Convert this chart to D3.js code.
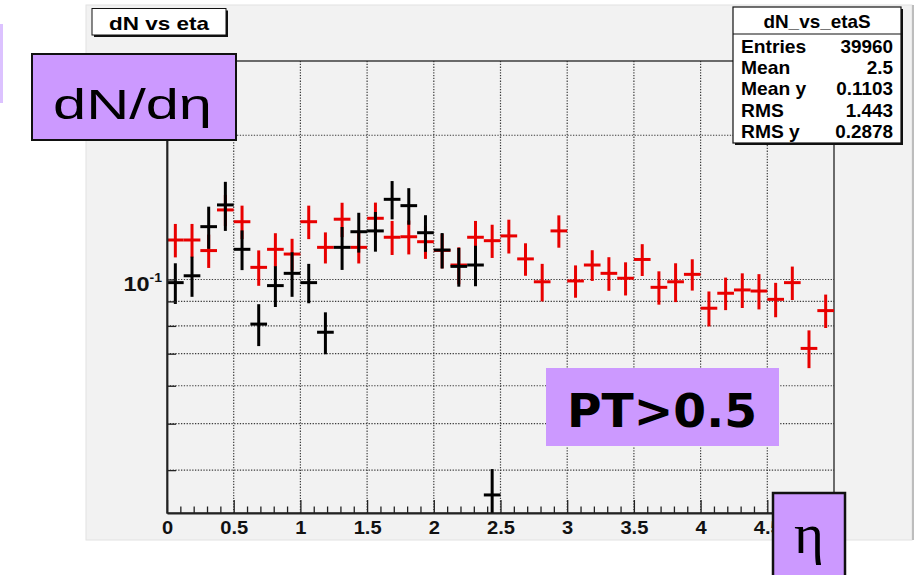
<!DOCTYPE html>
<html>
<head>
<meta charset="utf-8">
<script src="https://d3js.org/d3.v7.min.js"></script>
<style>
  html, body { margin: 0; padding: 0; background: #ffffff; }
  svg { display: block; }
</style>
</head>
<body>
<svg id="chart" width="919" height="575"></svg>
<script>
// eta bin centres (40 bins of width 0.125 over 0..5)
const etaCenters = [0.0625, 0.1875, 0.3125, 0.4375, 0.5625, 0.6875, 0.8125, 0.9375,
  1.0625, 1.1875, 1.3125, 1.4375, 1.5625, 1.6875, 1.8125, 1.9375,
  2.0625, 2.1875, 2.3125, 2.4375, 2.5625, 2.6875, 2.8125, 2.9375,
  3.0625, 3.1875, 3.3125, 3.4375, 3.5625, 3.6875, 3.8125, 3.9375,
  4.0625, 4.1875, 4.3125, 4.4375, 4.5625, 4.6875, 4.8125, 4.9375];
const binWidth = 0.125;

// dN/deta, black histogram (filled up to eta = 2.5)
const blackVal = [0.0985, 0.1018, 0.1289, 0.1431, 0.1156, 0.0807, 0.0971, 0.1030,
  0.0985, 0.0776, 0.1167, 0.1258, 0.1263, 0.1470, 0.1426, 0.1252,
  0.1152, 0.1065, 0.1072, 0.0355];
const blackErr = [0.0096, 0.0098, 0.0130, 0.0168, 0.0110, 0.0081, 0.0095, 0.0110,
  0.0093, 0.0078, 0.0120, 0.0120, 0.0120, 0.0135, 0.0125, 0.0110,
  0.0098, 0.0099, 0.0104, 0.0047];

// dN/deta, red histogram (dN_vs_etaS)
const redVal = [0.1209, 0.1209, 0.1149, 0.1397, 0.1320, 0.1060, 0.1156, 0.1130,
  0.1320, 0.1167, 0.1336, 0.1167, 0.1342, 0.1225, 0.1228, 0.1199,
  0.1150, 0.1072, 0.1225, 0.1205, 0.1233, 0.1104, 0.0989, 0.1263,
  0.0993, 0.1072, 0.1030, 0.1006, 0.1101, 0.0963, 0.0989, 0.1025,
  0.0871, 0.0936, 0.0951, 0.0946, 0.0909, 0.0985, 0.0718, 0.0861];
const redErr = [0.0097, 0.0097, 0.0092, 0.0105, 0.0106, 0.0090, 0.0093, 0.0086,
  0.0106, 0.0087, 0.0110, 0.0087, 0.0105, 0.0100, 0.0100, 0.0095,
  0.0095, 0.0095, 0.0100, 0.0096, 0.0100, 0.0086, 0.0089, 0.0098,
  0.0077, 0.0079, 0.0083, 0.0080, 0.0084, 0.0077, 0.0092, 0.0077,
  0.0073, 0.0073, 0.0079, 0.0080, 0.0075, 0.0079, 0.0065, 0.0069];

// axis ticks
const xMajorTicks = [0, 0.5, 1, 1.5, 2, 2.5, 3, 3.5, 4, 4.5];
const xMinorTicks = [0.1, 0.2, 0.3, 0.4, 0.6, 0.7, 0.8, 0.9, 1.1, 1.2, 1.3, 1.4,
  1.6, 1.7, 1.8, 1.9, 2.1, 2.2, 2.3, 2.4, 2.6, 2.7, 2.8, 2.9, 3.1, 3.2, 3.3, 3.4,
  3.6, 3.7, 3.8, 3.9, 4.1, 4.2, 4.3, 4.4, 4.6, 4.7, 4.8, 4.9];
const xGridTicks = [0.5, 1, 1.5, 2, 2.5, 3, 3.5, 4, 4.5];
const yTicks = [0.04, 0.05, 0.06, 0.07, 0.08, 0.09, 0.1, 0.2];
const yDomain = [0.03255, 0.2858];

// statistics box
const statTitle = "dN_vs_etaS";
const statNames = ["Entries", "Mean", "Mean y", "RMS", "RMS y"];
const statValues = ["39960", "2.5", "0.1103", "1.443", "0.2878"];

const histTitle = "dN vs eta";
const yLabel = "dN/dη";
const xLabel = "η";
const cutLabel = "PT>0.5";

const RED = "#e80000";
const PURPLE = "#cc99ff";
const FONT = "'Liberation Sans', Arial, Helvetica, sans-serif";

const svg = d3.select("#chart");
const frame = { left: 167, right: 834, top: 61, bottom: 513 };

const x = d3.scaleLinear().domain([0, 5]).range([frame.left, frame.right]);
const y = d3.scaleLog().domain(yDomain).range([frame.bottom, frame.top]);

// text stretched horizontally to a given width (or by a given factor)
function stretchedText(parent, str, px, py, opts) {
  const g = parent.append("g").attr("transform", `translate(${px},${py})`);
  const t = g.append("text")
    .attr("text-anchor", opts.anchor || "middle")
    .attr("font-family", opts.family || FONT)
    .attr("font-size", opts.size)
    .attr("font-weight", opts.weight || "normal")
    .attr("fill", opts.fill || "#000")
    .text(str);
  let sx = opts.sx || 1;
  if (opts.width) sx = opts.width / t.node().getComputedTextLength();
  t.attr("transform", `scale(${sx},1)`);
  return t;
}

// canvas background
svg.append("rect").attr("width", 919).attr("height", 575).attr("fill", "#fff");
svg.append("rect").attr("x", 86).attr("y", 5).attr("width", 826).attr("height", 535)
  .attr("fill", "#f2f2f2").attr("stroke", "#e2e2e2").attr("stroke-width", 1);
svg.append("line").attr("x1", 913).attr("x2", 913).attr("y1", 5).attr("y2", 540)
  .attr("stroke", "#bdbdbd").attr("stroke-width", 2);

// grid
const grid = svg.append("g").attr("stroke", "#3c3c3c").attr("stroke-width", 1.2)
  .attr("stroke-dasharray", "1.3,1.5").attr("fill", "none");
grid.selectAll("line.gx").data(xGridTicks).join("line")
  .attr("x1", d => x(d)).attr("x2", d => x(d))
  .attr("y1", frame.top).attr("y2", frame.bottom);
grid.selectAll("line.gy").data(yTicks).join("line")
  .attr("x1", frame.left).attr("x2", frame.right)
  .attr("y1", d => y(d)).attr("y2", d => y(d));

// frame
svg.append("rect").attr("x", frame.left).attr("y", frame.top)
  .attr("width", frame.right - frame.left).attr("height", frame.bottom - frame.top)
  .attr("fill", "none").attr("stroke", "#222").attr("stroke-width", 1.3);

// histograms drawn as error crosses
svg.append("clipPath").attr("id", "plotClip").append("rect")
  .attr("x", frame.left).attr("y", frame.top)
  .attr("width", frame.right - frame.left).attr("height", frame.bottom - frame.top);

function drawHist(values, errs, color) {
  const pts = values.map((v, i) => ({ eta: etaCenters[i], v: v, e: errs[i] }))
    .filter(d => d.v != null && d.v > 0);
  const g = svg.append("g").attr("clip-path", "url(#plotClip)")
    .attr("stroke", color).attr("stroke-width", 3).attr("fill", "none");
  g.selectAll("line.v").data(pts).join("line")
    .attr("x1", d => x(d.eta)).attr("x2", d => x(d.eta))
    .attr("y1", d => y(Math.max(d.v - d.e, yDomain[0] * 0.9)))
    .attr("y2", d => y(d.v + d.e));
  g.selectAll("line.h").data(pts).join("line")
    .attr("x1", d => x(d.eta - binWidth / 2)).attr("x2", d => x(d.eta + binWidth / 2))
    .attr("y1", d => y(d.v)).attr("y2", d => y(d.v));
}
drawHist(redVal, redErr, RED);
drawHist(blackVal, blackErr, "#000");

// x axis: major and minor ticks pointing into the frame
const xAxisMajor = svg.append("g").attr("transform", `translate(0,${frame.bottom})`)
  .call(d3.axisBottom(x).tickValues(xMajorTicks).tickSize(-13).tickSizeOuter(0)
    .tickPadding(10).tickFormat(d3.format("")));
xAxisMajor.select(".domain").attr("stroke", "#222").attr("stroke-width", 1.8);
xAxisMajor.selectAll(".tick line").attr("stroke", "#222").attr("stroke-width", 1.3);
xAxisMajor.selectAll(".tick text")
  .attr("font-family", FONT).attr("font-size", 17.5).attr("font-weight", "bold")
  .attr("fill", "#111").attr("y", 21.5).attr("dy", 0)
  .attr("transform", "scale(1.15,1)");

const xAxisMinor = svg.append("g").attr("transform", `translate(0,${frame.bottom})`)
  .call(d3.axisBottom(x).tickValues(xMinorTicks).tickSize(-6.5).tickSizeOuter(0).tickFormat(""));
xAxisMinor.select(".domain").remove();
xAxisMinor.selectAll(".tick line").attr("stroke", "#222").attr("stroke-width", 1.3);

// y axis (log): ticks at 0.04 ... 0.2
const yAxis = svg.append("g").attr("transform", `translate(${frame.left},0)`)
  .call(d3.axisLeft(y).tickValues(yTicks).tickSize(-9).tickSizeOuter(0).tickFormat(""));
yAxis.select(".domain").attr("stroke", "#222").attr("stroke-width", 1.8);
yAxis.selectAll(".tick line").attr("stroke", "#222").attr("stroke-width", 1.3);

// 10^-1 label
{
  const g = svg.append("g").attr("transform", `translate(162,${y(0.1) + 11.5})`);
  const t = g.append("text").attr("text-anchor", "end")
    .attr("font-family", FONT).attr("font-weight", "bold").attr("fill", "#111")
    .attr("transform", "scale(1.12,1)");
  t.append("tspan").attr("font-size", 21).text("10");
  t.append("tspan").attr("font-size", 12.5).attr("dy", -9).text("-1");
}

// histogram title box
svg.append("rect").attr("x", 94).attr("y", 10.5).attr("width", 134).attr("height", 26.5)
  .attr("fill", "#111");
svg.append("rect").attr("x", 92).attr("y", 8.5).attr("width", 134).attr("height", 26.5)
  .attr("fill", "#fff").attr("stroke", "#111").attr("stroke-width", 1);
stretchedText(svg, histTitle, 159, 29.5, { size: 18, weight: "bold", width: 100 });

// statistics box
svg.append("rect").attr("x", 735).attr("y", 9).attr("width", 168).attr("height", 136)
  .attr("fill", "#111");
svg.append("rect").attr("x", 733).attr("y", 7).attr("width", 168).attr("height", 136)
  .attr("fill", "#fff").attr("stroke", "#111").attr("stroke-width", 1.2);
svg.append("line").attr("x1", 733).attr("x2", 901).attr("y1", 34).attr("y2", 34)
  .attr("stroke", "#111").attr("stroke-width", 1.2);
stretchedText(svg, statTitle, 817, 28, { size: 17.5, weight: "bold", sx: 1.08 });
statNames.forEach((name, i) => {
  const by = 53 + i * 21.2;
  stretchedText(svg, name, 741, by, { size: 17.5, weight: "bold", anchor: "start", sx: 1.1 });
  stretchedText(svg, statValues[i], 893, by, { size: 17.5, weight: "bold", anchor: "end", sx: 1.08 });
});

// annotation boxes
svg.append("rect").attr("x", 0).attr("y", 24).attr("width", 3).attr("height", 79)
  .attr("fill", "#dcc2ff");

svg.append("rect").attr("x", 32).attr("y", 54).attr("width", 204).attr("height", 86)
  .attr("fill", PURPLE).attr("stroke", "#111").attr("stroke-width", 2);
stretchedText(svg, yLabel, 132.5, 118.5, { size: 43, width: 159 });

svg.append("rect").attr("x", 546).attr("y", 368).attr("width", 233).attr("height", 78)
  .attr("fill", PURPLE);
stretchedText(svg, cutLabel, 662, 427, {
  size: 47, weight: "bold", width: 190, family: "'DejaVu Sans', Verdana, sans-serif"
});

svg.append("rect").attr("x", 773).attr("y", 493).attr("width", 72).attr("height", 95)
  .attr("fill", PURPLE).attr("stroke", "#111").attr("stroke-width", 2.5);
stretchedText(svg, xLabel, 809, 553, {
  size: 56, family: "'Liberation Serif', 'Times New Roman', serif", width: 30
});
</script>
</body>
</html>
